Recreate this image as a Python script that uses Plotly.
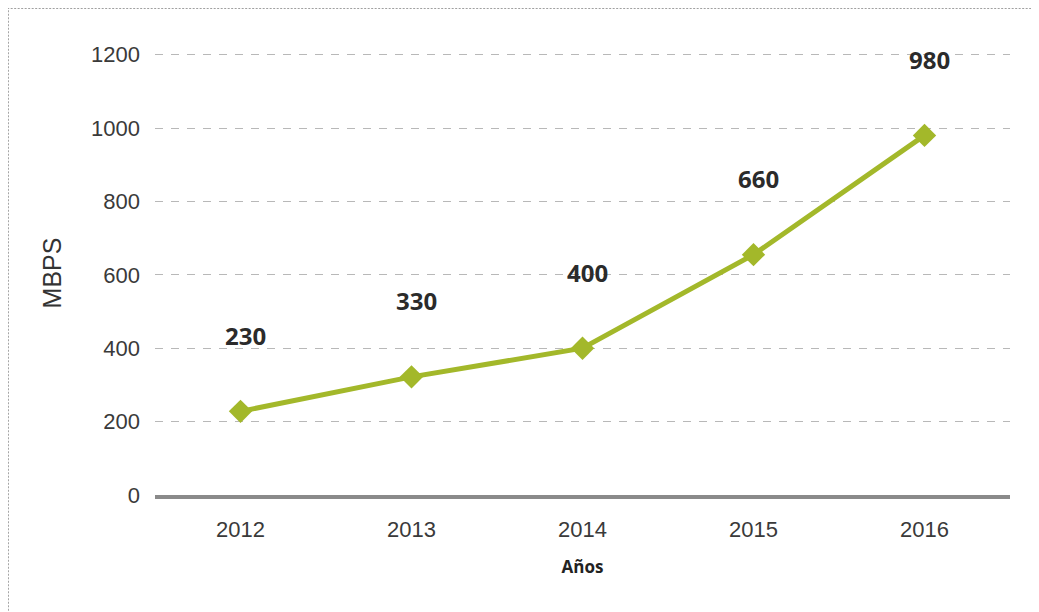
import plotly.graph_objects as go

years = ["2012", "2013", "2014", "2015", "2016"]
mbps = [228, 322, 400, 655, 980]
labels = ["230", "330", "400", "660", "980"]
y_ticks = [0, 200, 400, 600, 800, 1000, 1200]

green = "#a3b82a"

fig = go.Figure()
fig.add_trace(go.Scatter(
    x=years, y=mbps, mode="lines+markers",
    line=dict(color=green, width=5),
    marker=dict(symbol="diamond", size=18, color=green),
    hoverinfo="x+y", showlegend=False,
))

for i, (y, t) in enumerate(zip(mbps, labels)):
    fig.add_annotation(x=i, y=y, xref="x", yref="y", text="<b>" + t + "</b>",
                       showarrow=False, yshift=76, xshift=5,
                       font=dict(family="Open Sans", size=24, color="#2b2b2b"))

# dotted frame (top and left)
fig.add_shape(type="path", xref="paper", yref="paper",
              path="M -0.172 -0.3 L -0.172 1.097 L 1.06 1.097",
              line=dict(color="#a0a0a0", width=2, dash="2px,1.5px"))

fig.update_layout(
    width=1039, height=612,
    margin=dict(l=147, r=37, t=43, b=125),
    plot_bgcolor="white", paper_bgcolor="white",
    font=dict(family="Liberation Sans", color="#333333", size=22),
    xaxis=dict(
        type="category", range=[-0.5, 4.5],
        showgrid=False, showline=True, linecolor="#8a8a8a", linewidth=4,
        ticks="", ticklabelstandoff=12,
        tickfont=dict(family="Liberation Sans", size=22, color="#3a3a3a"),
        title=dict(text="<b>Años</b>", font=dict(family="Open Sans", size=17, color="#222222"), standoff=21),
        fixedrange=True,
    ),
    yaxis=dict(
        range=[0, 1210], tickvals=y_ticks,
        showgrid=True, gridcolor="#b8b8b8", gridwidth=1, griddash="8px,8px",
        zeroline=False, showline=False, ticks="", ticklabelstandoff=14,
        tickfont=dict(family="Liberation Sans", size=22, color="#3a3a3a"),
        title=dict(text="MBPS", font=dict(family="Liberation Sans", size=25, color="#333333"), standoff=22),
        fixedrange=True,
    ),
)

fig.write_html("out.html")
